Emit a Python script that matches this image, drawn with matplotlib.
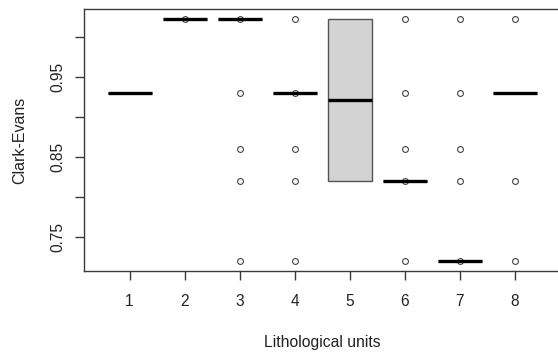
import matplotlib.pyplot as plt

plt.rcParams['font.family'] = ['Liberation Sans', 'DejaVu Sans']

# boxplot summary per lithological unit
units = [1, 2, 3, 4, 5, 6, 7, 8]
medians = [0.93, 1.022, 1.022, 0.93, 0.921, 0.82, 0.72, 0.93]
q1 = [0.93, 1.022, 1.022, 0.93, 0.82, 0.82, 0.72, 0.93]
q3 = [0.93, 1.022, 1.022, 0.93, 1.022, 0.82, 0.72, 0.93]
outliers = [
    [],
    [1.022],
    [1.022, 0.93, 0.86, 0.82, 0.72],
    [1.022, 0.93, 0.86, 0.82, 0.72],
    [],
    [1.022, 0.93, 0.86, 0.82, 0.72],
    [1.022, 0.93, 0.86, 0.82, 0.72],
    [1.022, 0.82, 0.72],
]

yticks = [0.75, 0.80, 0.85, 0.90, 0.95, 1.00]
ytick_labels = ['0.75', '', '0.85', '', '0.95', '']

stats = []
for i in range(len(units)):
    stats.append(dict(med=medians[i], q1=q1[i], q3=q3[i],
                      whislo=q1[i], whishi=q3[i], fliers=outliers[i]))

fig = plt.figure(figsize=(5.58, 3.52), dpi=100)
ax = fig.add_axes([0.1514, 0.2301, 0.852, 0.743])

line_col = '#3a3a3a'
ax.bxp(stats, positions=units, widths=0.8, patch_artist=True, showcaps=False,
       boxprops=dict(facecolor='#d3d3d3', edgecolor='#555555', linewidth=1.0),
       medianprops=dict(color='black', linewidth=2.4, solid_capstyle='butt'),
       whiskerprops=dict(color='#555555', linewidth=1.0),
       flierprops=dict(marker='o', markersize=4.2, markerfacecolor='none',
                       markeredgecolor='#444444', markeredgewidth=0.8))

ax.set_xlim(0.18, 8.82)
ax.set_ylim(0.7079, 1.0341)
ax.set_xticks(units)
ax.set_xticklabels([str(u) for u in units])
ax.set_yticks(yticks)
ax.set_yticklabels(ytick_labels, rotation=90, va='center')

for s in ax.spines.values():
    s.set_color(line_col)
    s.set_linewidth(1.0)
ax.tick_params(axis='both', length=6.5, width=1.0, color=line_col,
               labelsize=11.2, labelcolor='#222222')
ax.tick_params(axis='x', pad=10)
ax.tick_params(axis='y', pad=7.5)

ax.set_xlabel('Lithological units', fontsize=11.3, color='#222222', labelpad=19)
ax.set_ylabel('Clark-Evans', fontsize=11.5, color='#222222', labelpad=16.5)

fig.savefig('out.png', dpi=100)
